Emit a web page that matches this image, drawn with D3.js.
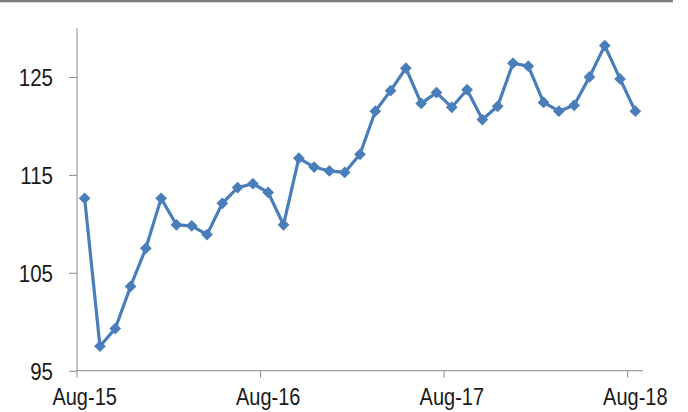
<!DOCTYPE html>
<html>
<head>
<meta charset="utf-8">
<script src="https://cdn.jsdelivr.net/npm/d3@7"></script>
<style>
  html, body { margin: 0; padding: 0; background: #fff; }
  svg { display: block; }
  text { font-family: "Liberation Sans", Arial, sans-serif; fill: #1a1a1a; }
</style>
</head>
<body>
<svg id="chart" width="688" height="412"></svg>
<script>
// Monthly index, Aug-15 through Aug-18
const months = d3.timeMonth.range(new Date(2015, 7, 1), new Date(2018, 8, 1));
const values = [
  112.6, 97.5, 99.3, 103.6, 107.5, 112.6, 109.9, 109.8, 108.9, 112.1,
  113.7, 114.1, 113.2, 109.9, 116.7, 115.8, 115.4, 115.25, 117.1, 121.5,
  123.6, 125.9, 122.3, 123.4, 121.9, 123.7, 120.65, 122.0, 126.4, 126.1,
  122.4, 121.5, 122.1, 125.0, 128.2, 124.8, 121.5
];
const yTicks = [95, 105, 115, 125];
const xTickIdx = [0, 12, 24, 36];

const fmt = d3.timeFormat("%b-%y");
const cats = months.map(fmt);
const data = cats.map((c, i) => ({ c, v: values[i] }));

const svg = d3.select("#chart");
const plotL = 77, plotR = 643, plotT = 28, plotB = 370.7;
const stretch = 1.15;
const axisColor = "#8c8c8c";

const x = d3.scaleBand().domain(cats).range([plotL, plotR]);
const y = d3.scaleLinear().domain([95, 130]).range([plotB, plotT]);

// header rule
svg.append("rect").attr("x", 0).attr("y", 0).attr("width", 673).attr("height", 2.3)
  .attr("fill", "#7f7f7f");

// y axis
const gy = svg.append("g").attr("transform", `translate(${plotL},0)`)
  .call(d3.axisLeft(y).tickValues(yTicks).tickSize(8).tickFormat(""));
gy.select(".domain").attr("stroke", axisColor).attr("d", `M0,${plotT}V${plotB}`);
gy.selectAll(".tick line").attr("stroke", axisColor);

yTicks.forEach(t => {
  svg.append("text")
    .attr("transform", `translate(53,${y(t) + 8.8}) scale(1,${stretch})`)
    .attr("text-anchor", "end")
    .attr("font-size", 20.5)
    .text(t);
});

// x axis: ticks on category boundaries, labels centred on categories
const bw = x.bandwidth();
const gx = svg.append("g").attr("transform", `translate(0,${plotB})`)
  .call(d3.axisBottom(x).tickValues(xTickIdx.map(i => cats[i])).tickSize(7).tickFormat(""));
gx.select(".domain").attr("stroke", axisColor).attr("d", `M${plotL},0H${plotR}`);
gx.selectAll(".tick line").attr("stroke", axisColor).attr("x1", -bw / 2).attr("x2", -bw / 2);

xTickIdx.forEach(i => {
  svg.append("text")
    .attr("transform", `translate(${x(cats[i]) + bw / 2},405) scale(1,${stretch})`)
    .attr("text-anchor", "middle")
    .attr("font-size", 20)
    .text(cats[i]);
});

// series
const cx = d => x(d.c) + bw / 2;
const blue = "#4a7ebb";
svg.append("path").datum(data)
  .attr("fill", "none").attr("stroke", blue).attr("stroke-width", 3.2)
  .attr("stroke-linejoin", "round")
  .attr("d", d3.line().x(cx).y(d => y(d.v)));

const diamond = d3.symbol().type(d3.symbolDiamond2).size(88);
svg.append("g").selectAll("path").data(data).join("path")
  .attr("transform", d => `translate(${cx(d)},${y(d.v)})`)
  .attr("d", diamond)
  .attr("fill", blue);
</script>
</body>
</html>
